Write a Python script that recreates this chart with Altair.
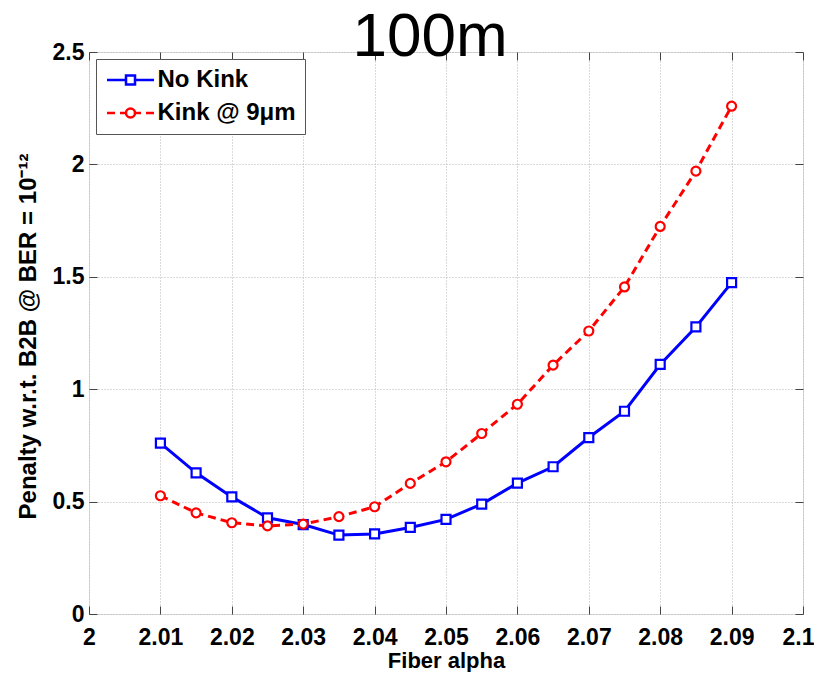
import altair as alt
import pandas as pd

# ---- data ----
alpha = [2.010, 2.015, 2.020, 2.025, 2.030, 2.035, 2.040, 2.045, 2.050,
         2.055, 2.060, 2.065, 2.070, 2.075, 2.080, 2.085, 2.090]
no_kink = [0.760, 0.628, 0.521, 0.428, 0.398, 0.351, 0.356, 0.385, 0.421,
           0.489, 0.582, 0.655, 0.785, 0.902, 1.110, 1.277, 1.474]
kink = [0.526, 0.450, 0.406, 0.392, 0.400, 0.433, 0.477, 0.581, 0.677,
        0.803, 0.933, 1.107, 1.259, 1.455, 1.724, 1.970, 2.259]
series_names = ["No Kink", "Kink @ 9\u03bcm"]
x_ticks = [2.0, 2.01, 2.02, 2.03, 2.04, 2.05, 2.06, 2.07, 2.08, 2.09, 2.1]
y_ticks = [0, 0.5, 1, 1.5, 2, 2.5]

df = pd.DataFrame({
    "alpha": alpha + alpha,
    "penalty": no_kink + kink,
    "series": [series_names[0]] * len(alpha) + [series_names[1]] * len(alpha),
})
legend_df = pd.DataFrame({"series": series_names})

FONT = "Liberation Sans"
BLUE = "#0000ff"
RED = "#ff0000"

xs = alt.Scale(domain=[2.0, 2.1], nice=False, zero=False)
ys = alt.Scale(domain=[0, 2.5], nice=False, zero=False)
col = alt.Scale(domain=series_names, range=[BLUE, RED])

bottom_axis = alt.Axis(
    orient="bottom", values=x_ticks, format=".2~f", offset=-8, tickSize=8,
    tickColor="#444", domain=False, grid=True, gridColor="#b4b4b4",
    gridDash=[1, 2], gridWidth=1, labelFont=FONT, labelFontWeight="bold",
    labelFontSize=23, labelColor="black", labelPadding=12, labelFlush=False,
    labelOverlap=False,
    labelOffset={"condition": {"test": "datum.value > 2.095", "value": -5}, "value": 0},
    title="Fiber alpha", titleFont=FONT, titleFontSize=22,
    titleFontWeight="bold", titleColor="black", titleY=61,
    titleBaseline="alphabetic")
left_axis = alt.Axis(
    orient="left", values=y_ticks, format=".1~f", offset=-8, tickSize=8,
    tickColor="#444", domain=False, grid=True, gridColor="#b4b4b4",
    gridDash=[1, 2], gridWidth=1, labelFont=FONT, labelFontWeight="bold",
    labelFontSize=23, labelColor="black", labelPadding=5, labelFlush=False,
    labelOverlap=False,
    title="Penalty w.r.t. B2B @ BER = 10\u207b\u00b9\u00b2", titleFont=FONT,
    titleFontSize=24, titleFontWeight="bold", titleColor="black",
    titleAngle=270, titleX=-62, titleY=284, titleAlign="center",
    titleBaseline="alphabetic")
top_axis = alt.Axis(
    orient="top", values=x_ticks, offset=-8, tickSize=8, tickColor="#444",
    domain=False, grid=False, labels=False, title=None)
right_axis = alt.Axis(
    orient="right", values=y_ticks, offset=-8, tickSize=8, tickColor="#444",
    domain=False, grid=False, labels=False, title=None)

base = alt.Chart(df)
nk = base.transform_filter(alt.datum.series == series_names[0])
kk = base.transform_filter(alt.datum.series == series_names[1])

line_nk = nk.mark_line(color=BLUE, strokeWidth=3).encode(
    x=alt.X("alpha:Q", scale=xs, axis=bottom_axis),
    y=alt.Y("penalty:Q", scale=ys, axis=left_axis),
)
pts_nk = nk.mark_point(shape="square", size=81, strokeWidth=2.2, filled=True,
                       fill="white", stroke=BLUE, opacity=1).encode(
    x=alt.X("alpha:Q", scale=xs, axis=top_axis),
    y=alt.Y("penalty:Q", scale=ys, axis=right_axis),
)
line_k = kk.mark_line(color=RED, strokeWidth=3, strokeDash=[8, 5]).encode(
    x=alt.X("alpha:Q", scale=xs, axis=None),
    y=alt.Y("penalty:Q", scale=ys, axis=None),
)
pts_k = kk.mark_point(shape="circle", size=81, strokeWidth=2.2, filled=True,
                      fill="white", stroke=RED, opacity=1).encode(
    x=alt.X("alpha:Q", scale=xs, axis=None),
    y=alt.Y("penalty:Q", scale=ys, axis=None),
)

# legend symbols: line segment(s) + marker, as custom SVG paths
leg_paths = [
    "M-2.35 0 L-0.45 0 M0.45 0 L2.35 0 M-0.45 -0.45 L0.45 -0.45 L0.45 0.45 L-0.45 0.45 Z",
    "M-2.35 0 L-1.55 0 M-1.05 0 L-0.45 0 M0.45 0 L1.05 0 M1.55 0 L2.35 0 "
    "M0.45 0 A0.45 0.45 0 1 1 -0.45 0 A0.45 0.45 0 1 1 0.45 0 Z",
]
leg = alt.Legend(
    title=None, orient="top-left", offset=7, symbolSize=400,
    symbolStrokeWidth=2.5, symbolFillColor="white", symbolOffset=13.5,
    labelOffset=15, rowPadding=9,
    labelFont=FONT, labelFontSize=24, labelFontWeight="bold",
    labelColor="black", padding=9, strokeColor="#555",
    fillColor="white", labelLimit=400)

# legend-only layer: its two marks sit far outside the drawing
legend_layer = alt.Chart(legend_df).mark_point(
    size=400, strokeWidth=2.5, filled=False, opacity=1).encode(
    x=alt.value(-3000), y=alt.value(100),
    color=alt.Color("series:N", scale=col, legend=leg),
    shape=alt.Shape("series:N", scale=alt.Scale(domain=series_names, range=leg_paths), legend=leg),
)

chart = alt.layer(line_nk, pts_nk, line_k, pts_k, legend_layer).resolve_axis(
    x="independent", y="independent"
).properties(
    width=714, height=562,
    title=alt.TitleParams("100m", font=FONT, fontSize=62, fontWeight="normal",
                          color="black", anchor="middle", frame="group",
                          dx=-16, offset=-28),
    padding={"left": 81, "top": 44, "right": 11, "bottom": 58},
    autosize=alt.AutoSizeParams(type="none"),
).configure_view(stroke="#8c8c8c", strokeWidth=2).configure(background="white")

chart.save("out.html", embed_options={"renderer": "svg", "actions": False})
